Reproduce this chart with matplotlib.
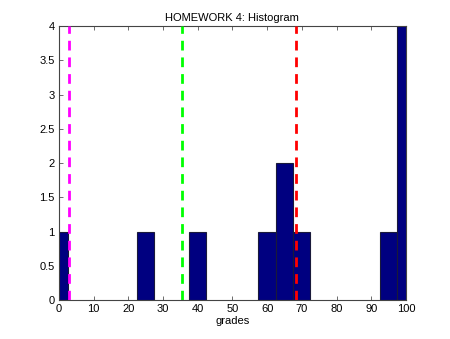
import matplotlib
matplotlib.use("Agg")
import matplotlib.pyplot as plt

# histogram bin centres (width 5) and counts
bin_centers = [0, 25, 40, 60, 65, 70, 95, 100]
counts = [1, 1, 1, 1, 2, 1, 1, 4]
bin_width = 5

# reference lines: mean - 2*std, mean - std, mean
line_x = [2.9, 35.6, 68.4]
line_colors = ["#ff00ff", "#00ff00", "#ff0000"]

plt.rcParams["font.family"] = ["Liberation Sans", "DejaVu Sans"]
plt.rcParams["font.size"] = 8

fig = plt.figure(figsize=(4.5, 3.39), dpi=100)
ax = fig.add_axes([0.131, 0.115, 0.771, 0.808])

ax.bar(bin_centers, counts, width=bin_width, color="#000080",
       edgecolor="#1a1a3a", linewidth=0.8, zorder=2)

for x, c in zip(line_x, line_colors):
    ax.axvline(x, color=c, linestyle=(0, (3.5, 2.5)), linewidth=2, zorder=3)

ax.set_xlim(0, 100)
ax.set_ylim(0, 4)
ax.set_xticks(range(0, 101, 10))
ax.set_yticks([0, 0.5, 1, 1.5, 2, 2.5, 3, 3.5, 4])
ax.set_yticklabels(["0", "0.5", "1", "1.5", "2", "2.5", "3", "3.5", "4"])
ax.tick_params(direction="in", length=3, top=True, right=True, width=0.6,
               color="#555555", pad=3)
for s in ax.spines.values():
    s.set_color("#444444")
    s.set_linewidth(0.8)

ax.set_title("HOMEWORK 4: Histogram", fontsize=8, pad=4)
ax.set_xlabel("grades", fontsize=8, labelpad=1)

fig.savefig("out.png", dpi=100, facecolor="white")
